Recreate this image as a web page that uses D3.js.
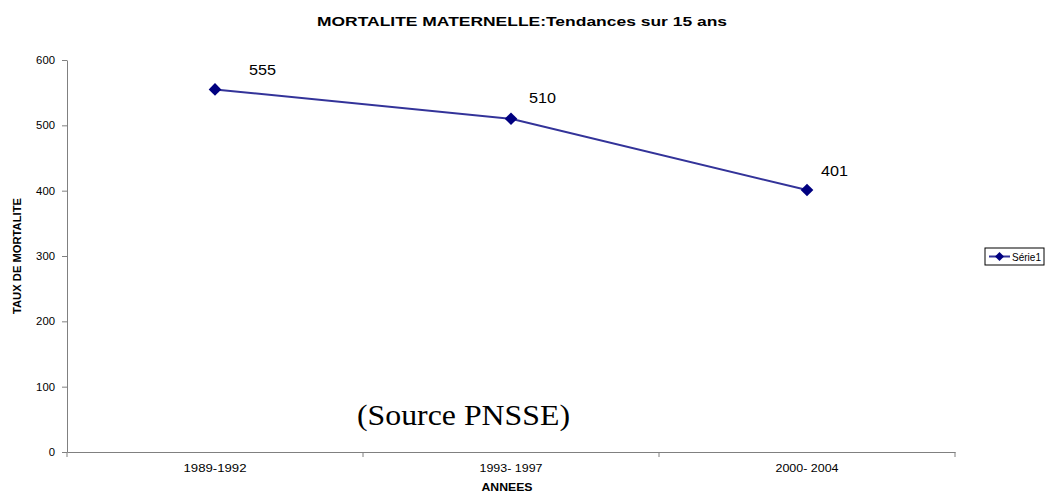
<!DOCTYPE html>
<html>
<head>
<meta charset="utf-8">
<script src="https://cdn.jsdelivr.net/npm/d3@7"></script>
<style>
  body { margin: 0; background: #fff; }
  svg { font-family: "Liberation Sans", Arial, sans-serif; }
</style>
</head>
<body>
<svg id="chart" width="1046" height="494"></svg>
<script>
var periodes = ["1989-1992", "1993- 1997", "2000- 2004"];
var valeurs = [555, 510, 401];
var yTicks = [0, 100, 200, 300, 400, 500, 600];
var serieNom = "Série1";

var width = 1046, height = 494;
var margin = { top: 60, right: 91, bottom: 42, left: 67 };
// decalage des etiquettes (deplacees a la main dans l'original)
var decalages = [{ dx: 34, dy: -14 }, { dx: 18, dy: -16 }, { dx: 14, dy: -14 }];

var svg = d3.select("#chart");

var xScale = d3.scaleBand()
  .domain(periodes)
  .range([margin.left, width - margin.right])
  .paddingInner(0).paddingOuter(0);

var yScale = d3.scaleLinear()
  .domain([0, 600])
  .range([height - margin.bottom, margin.top]);

// titre (texte etire comme dans Excel)
svg.append("text")
  .attr("x", 522).attr("y", 26)
  .attr("text-anchor", "middle")
  .attr("font-size", "12.5px").attr("font-weight", "bold")
  .attr("textLength", 410).attr("lengthAdjust", "spacingAndGlyphs")
  .text("MORTALITE MATERNELLE:Tendances sur 15 ans");

// axe y
var yAxis = d3.axisLeft(yScale).tickValues(yTicks).tickSize(5).tickSizeOuter(0);
var gy = svg.append("g")
  .attr("transform", "translate(" + margin.left + ",0)")
  .call(yAxis);
gy.select(".domain").attr("stroke", "#808080");
gy.selectAll(".tick line").attr("stroke", "#808080");
gy.selectAll(".tick text")
  .attr("font-size", "11px").attr("fill", "#000").attr("x", -12)
  .attr("textLength", function (d) { return String(d).length * 6.3; })
  .attr("lengthAdjust", "spacingAndGlyphs");

// axe x
var xAxis = d3.axisBottom(xScale).tickSize(0).tickSizeOuter(0);
var gx = svg.append("g")
  .attr("transform", "translate(0," + (height - margin.bottom) + ")")
  .call(xAxis);
gx.select(".domain").attr("stroke", "#808080");
gx.selectAll(".tick text")
  .attr("font-size", "11px").attr("fill", "#000").attr("dy", "0").attr("y", 20)
  .attr("textLength", 63).attr("lengthAdjust", "spacingAndGlyphs");
// graduations entre les categories
var bords = periodes.map(function (p) { return xScale(p); }).concat([xScale.range()[1]]);
gx.selectAll(".bord")
  .data(bords)
  .enter().append("line")
  .attr("x1", function (d) { return d; })
  .attr("x2", function (d) { return d; })
  .attr("y1", 0).attr("y2", 5)
  .attr("stroke", "#808080");

// titres des axes
svg.append("text")
  .attr("transform", "translate(21," + ((margin.top + height - margin.bottom) / 2) + ") rotate(-90)")
  .attr("text-anchor", "middle")
  .attr("font-size", "10px").attr("font-weight", "bold")
  .attr("textLength", 116).attr("lengthAdjust", "spacingAndGlyphs")
  .text("TAUX DE MORTALITE");
svg.append("text")
  .attr("x", (margin.left + width - margin.right) / 2 - 4).attr("y", 491)
  .attr("text-anchor", "middle")
  .attr("font-size", "10px").attr("font-weight", "bold")
  .attr("textLength", 51).attr("lengthAdjust", "spacingAndGlyphs")
  .text("ANNEES");

// serie
var points = periodes.map(function (p, i) {
  return { x: xScale(p) + xScale.bandwidth() / 2, y: yScale(valeurs[i]), v: valeurs[i], i: i };
});
var line = d3.line().x(function (d) { return d.x; }).y(function (d) { return d.y; });
svg.append("path")
  .datum(points)
  .attr("d", line)
  .attr("fill", "none")
  .attr("stroke", "#333399")
  .attr("stroke-width", 2);

// losange : carre tourne de 45 degres
var losange = d3.symbol().type(d3.symbolSquare).size(80);
svg.selectAll(".pt")
  .data(points)
  .enter().append("path")
  .attr("transform", function (d) { return "translate(" + d.x + "," + d.y + ") rotate(45)"; })
  .attr("d", losange)
  .attr("fill", "#000080");

svg.selectAll(".etiq")
  .data(points)
  .enter().append("text")
  .attr("x", function (d) { return d.x + decalages[d.i].dx; })
  .attr("y", function (d) { return d.y + decalages[d.i].dy; })
  .attr("font-size", "15px")
  .attr("fill", "#000")
  .attr("textLength", 27).attr("lengthAdjust", "spacingAndGlyphs")
  .text(function (d) { return d.v; });

// source
svg.append("text")
  .attr("x", 357).attr("y", 425)
  .attr("font-family", "'Liberation Serif', 'Times New Roman', serif")
  .attr("font-size", "29px")
  .attr("textLength", 213).attr("lengthAdjust", "spacingAndGlyphs")
  .text("(Source PNSSE)");

// legende
var lg = svg.append("g").attr("transform", "translate(985,248)");
lg.append("rect")
  .attr("width", 59).attr("height", 17)
  .attr("fill", "#fff").attr("stroke", "#000").attr("stroke-width", 1);
lg.append("line")
  .attr("x1", 4).attr("x2", 25).attr("y1", 8.5).attr("y2", 8.5)
  .attr("stroke", "#333399").attr("stroke-width", 2);
lg.append("path")
  .attr("transform", "translate(14.5,8.5) rotate(45)")
  .attr("d", d3.symbol().type(d3.symbolSquare).size(40))
  .attr("fill", "#000080");
lg.append("text")
  .attr("x", 27).attr("y", 12.5)
  .attr("font-size", "11px")
  .attr("textLength", 29).attr("lengthAdjust", "spacingAndGlyphs")
  .text(serieNom);
</script>
</body>
</html>
